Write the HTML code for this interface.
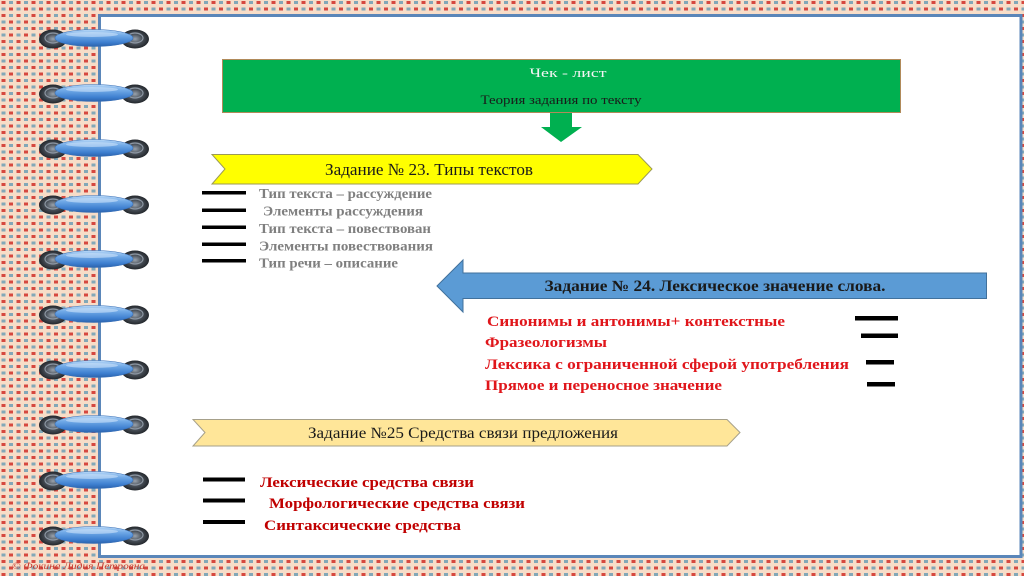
<!DOCTYPE html>
<html>
<head>
<meta charset="utf-8">
<style>
html,body{margin:0;padding:0;width:1024px;height:576px;overflow:hidden;background:#f6dcc6;}
svg{display:block;}
text{font-family:"Liberation Serif","DejaVu Serif",serif;}
</style>
</head>
<body>
<svg width="1024" height="576" viewBox="0 0 1024 576" xmlns="http://www.w3.org/2000/svg">
<defs>
  <pattern id="dots" x="0" y="0" width="15" height="13" patternUnits="userSpaceOnUse">
    <rect width="15" height="13" fill="#f7ddc8"/>
    <rect x="1.5" y="1" width="4" height="3" fill="#d6483f"/>
    <rect x="9" y="1" width="4" height="3" fill="#82a8b8"/>
    <rect x="1.5" y="7.5" width="4" height="3" fill="#82a8b8"/>
    <rect x="9" y="7.5" width="4" height="3" fill="#d6483f"/>
  </pattern>
  <linearGradient id="blueRing" x1="0" y1="0" x2="0" y2="1">
    <stop offset="0" stop-color="#b9d8f7"/>
    <stop offset="0.35" stop-color="#6fa8e6"/>
    <stop offset="0.75" stop-color="#3e7fd0"/>
    <stop offset="1" stop-color="#2b63ad"/>
  </linearGradient>
  <radialGradient id="cap" cx="0.5" cy="0.5" r="0.5">
    <stop offset="0" stop-color="#9aa3ad"/>
    <stop offset="0.5" stop-color="#4b525b"/>
    <stop offset="1" stop-color="#23272c"/>
  </radialGradient>
  <g id="ring">
    <ellipse cx="53" cy="1" rx="14" ry="9.5" fill="url(#cap)"/>
    <ellipse cx="135" cy="1" rx="14" ry="9.5" fill="url(#cap)"/>
    <ellipse cx="53" cy="0" rx="8" ry="5" fill="none" stroke="#8d97a3" stroke-width="1.2"/>
    <ellipse cx="135" cy="0" rx="8" ry="5" fill="none" stroke="#8d97a3" stroke-width="1.2"/>
    <ellipse cx="94" cy="0" rx="39" ry="8.5" fill="url(#blueRing)" stroke="#3a6fb5" stroke-width="0.6"/>
    <ellipse cx="92" cy="-3.5" rx="26" ry="2.5" fill="#d6e8fb" opacity="0.55"/>
  </g>
</defs>

<!-- background -->
<rect x="0" y="0" width="1024" height="576" fill="url(#dots)"/>

<!-- panel -->
<rect x="99.5" y="15.5" width="921.5" height="541" fill="#ffffff" stroke="#5a86b9" stroke-width="3"/>

<!-- rings -->
<use href="#ring" y="38"/>
<use href="#ring" y="93"/>
<use href="#ring" y="148"/>
<use href="#ring" y="204"/>
<use href="#ring" y="259"/>
<use href="#ring" y="314"/>
<use href="#ring" y="369"/>
<use href="#ring" y="424"/>
<use href="#ring" y="480"/>
<use href="#ring" y="535"/>

<!-- copyright -->
<text x="12" y="569" font-size="9" font-style="italic" fill="#c4392f" textLength="133" lengthAdjust="spacingAndGlyphs">© Фокина Лидия Петровна</text>

<!-- green box -->
<rect x="222.5" y="59.5" width="678" height="53" fill="#00b050" stroke="#b08a5a" stroke-width="1"/>
<text x="568" y="77" font-size="13" fill="#f4f4f4" text-anchor="middle" textLength="77" lengthAdjust="spacingAndGlyphs">Чек - лист</text>
<text x="561" y="104" font-size="13" fill="#1a1a1a" text-anchor="middle" textLength="161" lengthAdjust="spacingAndGlyphs">Теория задания по тексту</text>

<!-- green down arrow -->
<polygon points="550,113 572,113 572,127 582,127 561,142 541,127 550,127" fill="#00b050"/>

<!-- yellow chevron -->
<polygon points="212,154.5 638,154.5 652,169 638,184 212,184 225,169" fill="#ffff00" stroke="#9c9a55" stroke-width="1"/>
<text x="429" y="175" font-size="17" fill="#1a1a1a" text-anchor="middle" textLength="208" lengthAdjust="spacingAndGlyphs">Задание № 23. Типы текстов</text>

<!-- gray list bars -->
<g fill="#000">
  <rect x="202" y="191" width="44" height="3.5"/>
  <rect x="202" y="208.5" width="44" height="3.5"/>
  <rect x="202" y="225.5" width="44" height="3.5"/>
  <rect x="202" y="242.5" width="44" height="3.5"/>
  <rect x="202" y="259" width="44" height="3.5"/>
</g>
<g font-size="13.5" font-weight="bold" fill="#7f7f7f">
  <text x="259" y="198" textLength="173" lengthAdjust="spacingAndGlyphs">Тип текста – рассуждение</text>
  <text x="263" y="215.5" textLength="160" lengthAdjust="spacingAndGlyphs">Элементы рассуждения</text>
  <text x="259" y="233" textLength="172" lengthAdjust="spacingAndGlyphs">Тип текста – повествован</text>
  <text x="259" y="250.5" textLength="174" lengthAdjust="spacingAndGlyphs">Элементы повествования</text>
  <text x="259" y="267.5" textLength="139" lengthAdjust="spacingAndGlyphs">Тип речи – описание</text>
</g>

<!-- blue left arrow -->
<polygon points="437,286 463,260 463,273 986.5,273 986.5,298.5 463,298.5 463,312" fill="#5b9bd5" stroke="#41719c" stroke-width="1"/>
<text x="715" y="291" font-size="15.5" font-weight="bold" fill="#1a1a1a" text-anchor="middle" textLength="341" lengthAdjust="spacingAndGlyphs">Задание № 24. Лексическое значение слова.</text>

<!-- red list -->
<g font-size="15" font-weight="bold" fill="#e0161b">
  <text x="487" y="326" textLength="298" lengthAdjust="spacingAndGlyphs">Синонимы и антонимы+ контекстные</text>
  <text x="485" y="347" textLength="122" lengthAdjust="spacingAndGlyphs">Фразеологизмы</text>
  <text x="485" y="369" textLength="364" lengthAdjust="spacingAndGlyphs">Лексика с ограниченной сферой употребления</text>
  <text x="485" y="390" textLength="237" lengthAdjust="spacingAndGlyphs">Прямое и переносное значение</text>
</g>
<g fill="#000">
  <rect x="855" y="316" width="43" height="4.5"/>
  <rect x="861" y="333.5" width="37" height="4.5"/>
  <rect x="866" y="360" width="28" height="4.5"/>
  <rect x="867" y="382" width="28" height="4.5"/>
</g>

<!-- beige chevron -->
<polygon points="193,419.5 727,419.5 740,432.5 727,446 193,446 205,432.5" fill="#ffe699" stroke="#a6a08a" stroke-width="1"/>
<text x="463" y="438" font-size="15.5" fill="#1a1a1a" text-anchor="middle" textLength="310" lengthAdjust="spacingAndGlyphs">Задание №25 Средства связи предложения</text>

<!-- bottom list -->
<g fill="#000">
  <rect x="203" y="477.5" width="42" height="4"/>
  <rect x="203" y="498.5" width="42" height="4"/>
  <rect x="203" y="520" width="42" height="4"/>
</g>
<g font-size="15" font-weight="bold" fill="#c00000">
  <text x="260" y="487" textLength="214" lengthAdjust="spacingAndGlyphs">Лексические средства связи</text>
  <text x="269" y="508" textLength="256" lengthAdjust="spacingAndGlyphs">Морфологические средства связи</text>
  <text x="264" y="530" textLength="197" lengthAdjust="spacingAndGlyphs">Синтаксические средства</text>
</g>
</svg>
</body>
</html>
